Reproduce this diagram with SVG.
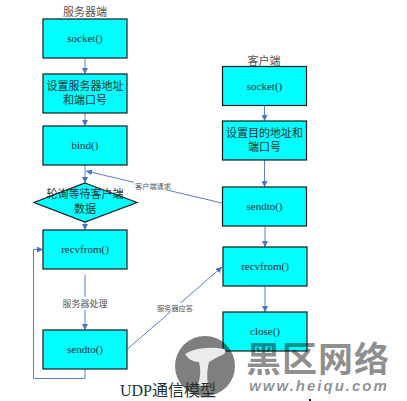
<svg xmlns="http://www.w3.org/2000/svg" width="407" height="401" viewBox="0 0 407 401">
<style>
.b{fill:#00ffff;stroke:#1a1a1a;stroke-width:1.2}
.t{font-family:"Liberation Serif","Noto Sans CJK SC",serif;font-size:11px;fill:#1f2f2f;text-anchor:middle}
.h{fill:#555}
.s{font-size:7.2px;fill:#555}
.c{fill:none;stroke:#5a80cc;stroke-width:1}
.wm{font-family:"Noto Sans CJK SC","Liberation Sans",sans-serif;fill:#000;fill-opacity:.45;font-weight:700;text-anchor:middle}
</style>
<defs>
<marker id="a" markerWidth="7" markerHeight="6" refX="6" refY="3" orient="auto" markerUnits="userSpaceOnUse"><path d="M0 0L6 3L0 6Z" fill="#4a72c4"/></marker>
</defs>
<rect width="407" height="401" fill="#fff"/>
<text class="t h" x="85" y="16">服务器端</text>
<text class="t h" x="264" y="65">客户端</text>
<g id="connectors">
<path class="c" marker-end="url(#a)" d="M85 58V74"/>
<path class="c" marker-end="url(#a)" d="M85 113V126"/>
<path class="c" marker-end="url(#a)" d="M85 165V183"/>
<path class="c" marker-end="url(#a)" d="M85 221V230"/>
<path class="c" marker-end="url(#a)" d="M85 275V330"/>
<path class="c" marker-end="url(#a)" d="M85 369V378.500H33.500V249.500H43"/>
<path class="c" marker-end="url(#a)" d="M222 203L86 171"/>
<path class="c" marker-end="url(#a)" d="M127.500 349L222 267"/>
<path class="c" marker-end="url(#a)" d="M264.500 105V121"/>
<path class="c" marker-end="url(#a)" d="M264.500 160V187"/>
<path class="c" marker-end="url(#a)" d="M265 226V247"/>
<path class="c" marker-end="url(#a)" d="M265 286V312"/>
</g>
<g id="n1"><rect class="b" x="43" y="19" width="84" height="39"/><text class="t" x="85" y="42">socket()</text></g>
<g id="n2"><rect class="b" x="43" y="74" width="84" height="39"/><text class="t" x="85" y="90">设置服务器地址</text><text class="t" x="85" y="104">和端口号</text></g>
<g id="n3"><rect class="b" x="43" y="126" width="84" height="39"/><text class="t" x="85" y="149">bind()</text></g>
<g id="n4"><path class="b" d="M85 183L137 202.500L85 222L34 202.500Z"/><text class="t" x="85" y="198">轮询等待客户端</text><text class="t" x="85" y="213">数据</text></g>
<g id="n5"><rect class="b" x="43" y="230" width="84" height="39"/><text class="t" x="85" y="253">recvfrom()</text></g>
<g id="n6"><rect class="b" x="43" y="330" width="84" height="39"/><text class="t" x="85" y="353">sendto()</text></g>
<g id="n7"><rect class="b" x="222.500" y="66.500" width="84" height="39"/><text class="t" x="264.500" y="90">socket()</text></g>
<g id="n8"><rect class="b" x="222.500" y="121" width="84" height="39"/><text class="t" x="264.500" y="137">设置目的地址和</text><text class="t" x="264.500" y="151">端口号</text></g>
<g id="n9"><rect class="b" x="222.500" y="187" width="84" height="39"/><text class="t" x="264.500" y="210">sendto()</text></g>
<g id="n10"><rect class="b" x="223" y="247" width="84" height="39"/><text class="t" x="265" y="270">recvfrom()</text></g>
<g id="n11"><rect class="b" x="223" y="312" width="84" height="39"/><text class="t" x="265" y="335">close()</text></g>
<rect x="134" y="181" width="38" height="9" fill="#fff"/>
<text class="t s" x="153" y="189">客户端请求</text>
<rect x="60" y="297" width="50" height="13" fill="#fff"/>
<text class="t" style="font-size:9px;fill:#555" x="85" y="307">服务器处理</text>
<rect x="156" y="303" width="38" height="9" fill="#fff"/>
<text class="t s" x="175" y="310.500">服务器应答</text>
<g id="watermark">
<circle cx="205" cy="366" r="30" fill="#000" fill-opacity=".5"/>
<path d="M185 354Q200 345 224 349Q227 351 224 354Q215 358 209 362Q206 372 208 385Q203 387 198 385Q202 372 199 362Q190 362 185 354Z" fill="#ececec"/>
<text class="wm" style="font-size:35px;letter-spacing:1px" x="318" y="372">黑区网络</text>
<text class="wm" style="font-size:15px;font-family:'Liberation Sans',sans-serif;letter-spacing:2px;font-style:italic" x="319" y="391">www.heiqu.com</text>
</g>
<text class="t" style="font-size:16px" x="168" y="396">UDP通信模型</text>
<rect x="309" y="399" width="2" height="2" fill="#111"/>
</svg>
